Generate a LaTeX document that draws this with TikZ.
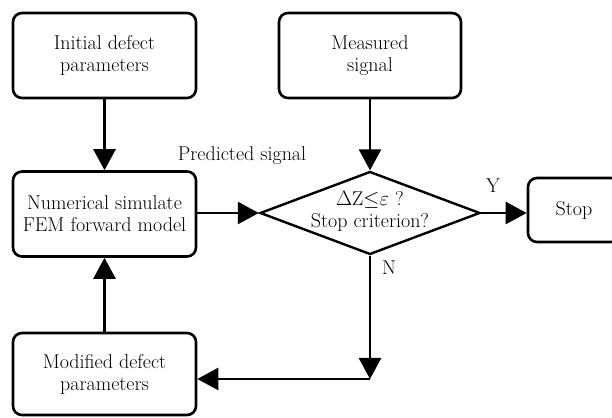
\documentclass[tikz,border=0pt]{standalone}
\usepackage{fontspec}
\usetikzlibrary{arrows.meta,shapes.geometric}
% slightly heavier text face for the diagram labels
\newcommand{\diagtext}{\fontsize{20}{22}\selectfont\addfontfeatures{FakeBold=0.35}}
\begin{document}
\begin{tikzpicture}[x=1pt,y=1pt,
  box/.style={draw, line width=2.6pt, rounded corners=9pt, fill=white,
    align=center, font=\diagtext, inner sep=0pt},
  decshape/.style={draw, diamond, line width=2.4pt, inner sep=0pt,
    minimum width=220pt, minimum height=83pt},
  lbl/.style={font=\diagtext, inner sep=0pt},
  conn/.style={line width=2.6pt},
  arr/.style={conn, -{Triangle[length=21pt,width=22pt]}}]
\useasboundingbox (0,0) rectangle (612,417);

% process boxes
\node[box, minimum width=183pt, minimum height=85pt] (init) at (104.5,361.5) {Initial defect\\parameters};
\node[box, minimum width=183pt, minimum height=85pt] (num) at (104.5,203) {Numerical simulate\\FEM forward model};
\node[box, minimum width=183pt, minimum height=82pt] (mod) at (104.5,43) {Modified defect\\parameters};
\node[box, minimum width=182pt, minimum height=85pt] (meas) at (370,361.5) {Measured\\signal};
\node[box, minimum width=92pt, minimum height=64pt] (stop) at (574,207) {Stop};

% decision
\node[decshape] (dec) at (370,204) {};
\node[lbl, align=center] (dectext) at (370,206) {$\Delta\mathrm{Z}{\leq}\varepsilon$ ?\\Stop criterion?};

% connectors
\draw[arr] (init.south) -- (num.north);
\draw[arr] (meas.south) -- (dec.north);
\draw[arr] (num.east |- dec.west) -- (dec.west);
\draw[arr] (dec.east) -- (dec.east -| stop.west);
\coordinate (corner) at (dec.south |- 0,38);
\draw[arr] (dec.south) -- (corner);
\draw[arr] (corner) -- (corner -| mod.east);
\draw[arr] (mod.north) -- (num.south);

% labels
\node[lbl] (pred) at (242,261) {Predicted signal};
\node[lbl] (ylbl) at (493,231) {Y};
\node[lbl] (nlbl) at (389,149) {N};
\end{tikzpicture}
\end{document}
